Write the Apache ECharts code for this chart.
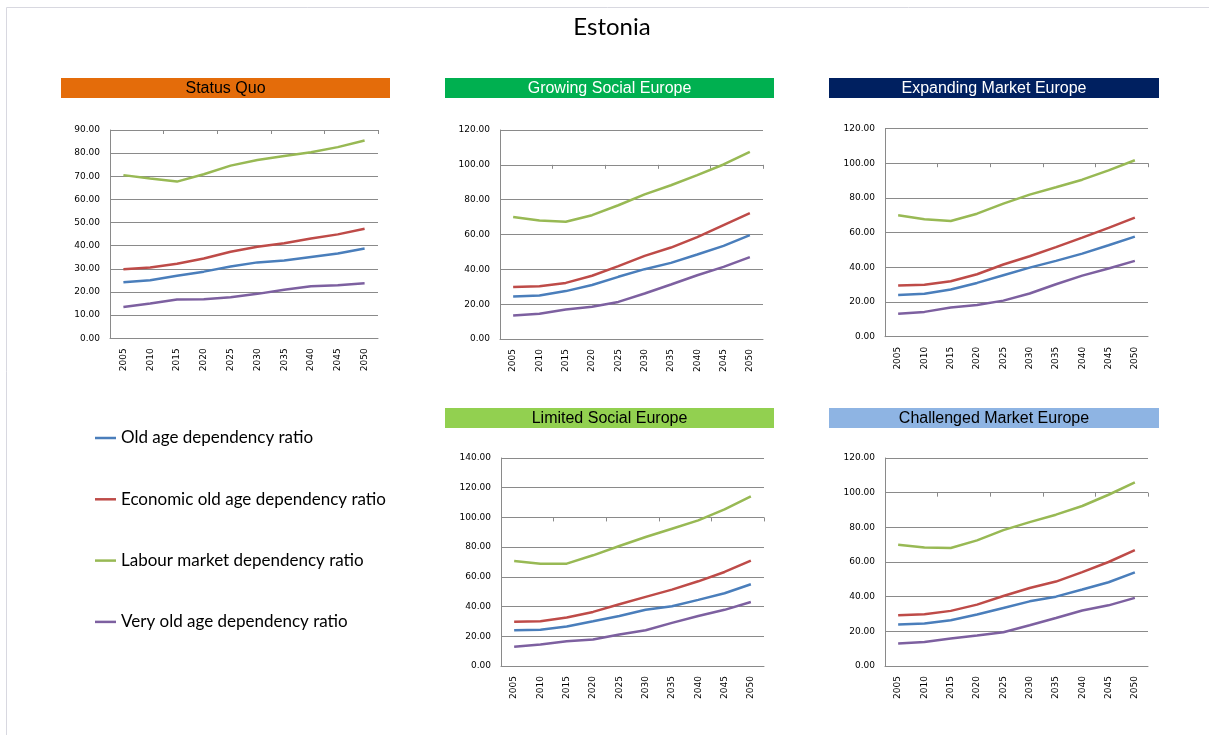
<!DOCTYPE html>
<html>
<head>
<meta charset="utf-8">
<script src="https://cdn.jsdelivr.net/npm/echarts@6/dist/echarts.min.js"></script>
<style>
html,body{margin:0;padding:0;background:#fff;}
#chart{width:1209px;height:735px;}
</style>
</head>
<body>
<div id="chart"></div>
<script>
// ---------- data ----------
const years = ['2005','2010','2015','2020','2025','2030','2035','2040','2045','2050'];
const seriesNames = ['Old age dependency ratio','Economic old age dependency ratio','Labour market dependency ratio','Very old age dependency ratio'];
const scenarioNames = ['Status Quo','Growing Social Europe','Expanding Market Europe','Limited Social Europe','Challenged Market Europe'];

const sqOld     = [24.2, 25.1, 27.0, 28.8, 31.0, 32.8, 33.6, 35.1, 36.6, 38.8];
const sqEcon    = [29.8, 30.6, 32.2, 34.5, 37.4, 39.6, 41.1, 43.1, 44.9, 47.3];
const sqLabour  = [70.5, 69.0, 67.7, 70.9, 74.6, 77.0, 78.8, 80.4, 82.6, 85.5];
const sqVeryOld = [13.5, 15.0, 16.8, 16.9, 17.7, 19.2, 21.0, 22.5, 22.9, 23.8];

const gsOld     = [24.4, 25.0, 27.5, 31.0, 35.7, 40.1, 43.7, 48.5, 53.5, 59.6];
const gsEcon    = [29.8, 30.3, 32.2, 36.3, 41.8, 47.7, 52.5, 58.5, 65.4, 72.3];
const gsLabour  = [70.1, 68.0, 67.3, 71.1, 76.8, 83.0, 88.3, 94.1, 100.2, 107.5];
const gsVeryOld = [13.5, 14.5, 16.9, 18.5, 21.3, 26.1, 31.3, 36.6, 41.4, 47.0];

const emOld     = [24.1, 24.7, 27.2, 31.0, 35.4, 39.8, 43.7, 47.9, 52.7, 57.7];
const emEcon    = [29.5, 30.0, 32.0, 36.0, 41.6, 46.4, 51.6, 57.1, 62.7, 68.6];
const emLabour  = [70.0, 67.7, 66.7, 70.9, 76.7, 81.9, 86.1, 90.5, 95.9, 101.7];
const emVeryOld = [13.2, 14.3, 16.8, 18.3, 20.8, 24.9, 30.2, 35.2, 39.3, 43.7];

const lsOld     = [24.0, 24.4, 26.6, 30.1, 33.7, 37.8, 40.2, 44.5, 49.0, 55.0];
const lsEcon    = [29.7, 30.1, 32.6, 36.4, 41.6, 46.5, 51.4, 57.0, 63.3, 70.9];
const lsLabour  = [70.7, 68.9, 68.9, 74.5, 80.8, 86.8, 92.4, 98.0, 105.4, 114.1];
const lsVeryOld = [13.0, 14.5, 16.7, 17.8, 21.2, 24.1, 29.0, 33.7, 37.8, 43.1];

const cmOld     = [24.0, 24.5, 26.4, 29.7, 33.5, 37.3, 40.0, 44.1, 48.3, 54.0];
const cmEcon    = [29.3, 29.9, 31.8, 35.4, 40.4, 45.0, 48.7, 54.2, 60.0, 66.9];
const cmLabour  = [70.0, 68.4, 68.1, 72.5, 78.4, 83.0, 87.3, 92.3, 98.8, 105.9];
const cmVeryOld = [13.0, 13.9, 15.8, 17.6, 19.5, 23.5, 27.7, 32.0, 35.0, 39.3];

const yMax      = [90, 120, 120, 140, 120];
const yInterval = [10, 20, 20, 20, 20];
const tickLine  = [90, 100, 100, 100, 100];

// ---------- layout / style ----------
const scenarioData = [
  [sqOld, sqEcon, sqLabour, sqVeryOld],
  [gsOld, gsEcon, gsLabour, gsVeryOld],
  [emOld, emEcon, emLabour, emVeryOld],
  [lsOld, lsEcon, lsLabour, lsVeryOld],
  [cmOld, cmEcon, cmLabour, cmVeryOld]
];
const grids = [
  {left:110, top:130,   width:268, height:208.3},
  {left:500, top:130,   width:263, height:209},
  {left:885, top:128.5, width:263, height:208.2},
  {left:501, top:458,   width:263, height:208},
  {left:885, top:458,   width:263, height:208}
];
const bars = [
  {x:61,  y:78,  w:329, h:20, color:'#E46C0A', text:'#000'},
  {x:445, y:78,  w:329, h:20, color:'#00B050', text:'#fff'},
  {x:829, y:78,  w:330, h:20, color:'#002060', text:'#fff'},
  {x:445, y:408, w:329, h:20, color:'#92D050', text:'#000'},
  {x:829, y:408, w:330, h:20, color:'#8EB4E3', text:'#000'}
];
const lineColors = ['#4A7EBB', '#BE4B48', '#98B954', '#7D60A0'];
const gridGray = '#8a8a8a';
const axisFont = 'DejaVu Sans';

const xAxes = [], yAxes = [], series = [], graphics = [];

grids.forEach((g, i) => {
  xAxes.push({
    type:'category', gridIndex:i, data:years, boundaryGap:true,
    axisLine:{show:true, lineStyle:{color:gridGray, width:1}},
    axisTick:{show:false},
    axisLabel:{rotate:90, margin:10, fontSize:9, fontFamily:axisFont, color:'#000'}
  });
  yAxes.push({
    type:'value', gridIndex:i, min:0, max:yMax[i], interval:yInterval[i],
    axisLine:{show:true, lineStyle:{color:gridGray, width:1}},
    axisTick:{show:false},
    splitLine:{show:true, lineStyle:{color:gridGray, width:1}},
    axisLabel:{margin:10, fontSize:9, fontFamily:axisFont, color:'#000',
      formatter: v => v.toFixed(2)}
  });
});
// secondary axes that draw the category tick marks on a reference gridline
grids.forEach((g, i) => {
  const off = -g.height * (yMax[i] - tickLine[i]) / yMax[i];
  xAxes.push({
    type:'category', gridIndex:i, data:years, boundaryGap:true, position:'top', offset:off,
    axisLine:{show:false},
    axisTick:{show:true, inside:true, length:4, lineStyle:{color:gridGray}},
    axisLabel:{show:false}
  });
});

scenarioData.forEach((set, i) => {
  set.forEach((vals, k) => {
    series.push({
      name: seriesNames[k], type:'line', xAxisIndex:i, yAxisIndex:i,
      data: vals, showSymbol:false, symbol:'none', smooth:false,
      lineStyle:{color:lineColors[k], width:2.5},
      itemStyle:{color:lineColors[k]},
      silent:true, animation:false
    });
  });
});

bars.forEach((b, i) => {
  graphics.push({type:'rect', shape:{x:b.x, y:b.y, width:b.w, height:b.h}, style:{fill:b.color}, z:10});
  graphics.push({type:'text', x:b.x + b.w/2, y:b.y + b.h/2 + 1, z:11,
    style:{text:scenarioNames[i], fill:b.text, font:'16px "Liberation Sans", Arial, sans-serif', align:'center', verticalAlign:'middle'}});
});
// page border (top and left)
graphics.push({type:'line', shape:{x1:6.5, y1:7.5, x2:1209, y2:7.5}, style:{stroke:'#d8d8e0', lineWidth:1}});
graphics.push({type:'line', shape:{x1:6.5, y1:7.5, x2:6.5, y2:735}, style:{stroke:'#d8d8e0', lineWidth:1}});
graphics.push({type:'text', x:612, y:27, z:11,
  style:{text:'Estonia', fill:'#000', font:'24px Lato, sans-serif', align:'center', verticalAlign:'middle'}});

const chart = echarts.init(document.getElementById('chart'), null, {renderer:'canvas'});
chart.setOption({
  backgroundColor:'#fff',
  animation:false,
  grid: grids.map(g => ({left:g.left, top:g.top, width:g.width, height:g.height, containLabel:false})),
  xAxis: xAxes,
  yAxis: yAxes,
  legend:{
    data: seriesNames, orient:'vertical', left:95, top:428, padding:0,
    itemGap:41.3, itemWidth:21, itemHeight:2.5, icon:'rect',
    textStyle:{fontSize:17, fontFamily:'Lato, sans-serif', color:'#000', lineHeight:20},
    selectedMode:false
  },
  graphic: graphics,
  series: series
});
</script>
</body>
</html>
